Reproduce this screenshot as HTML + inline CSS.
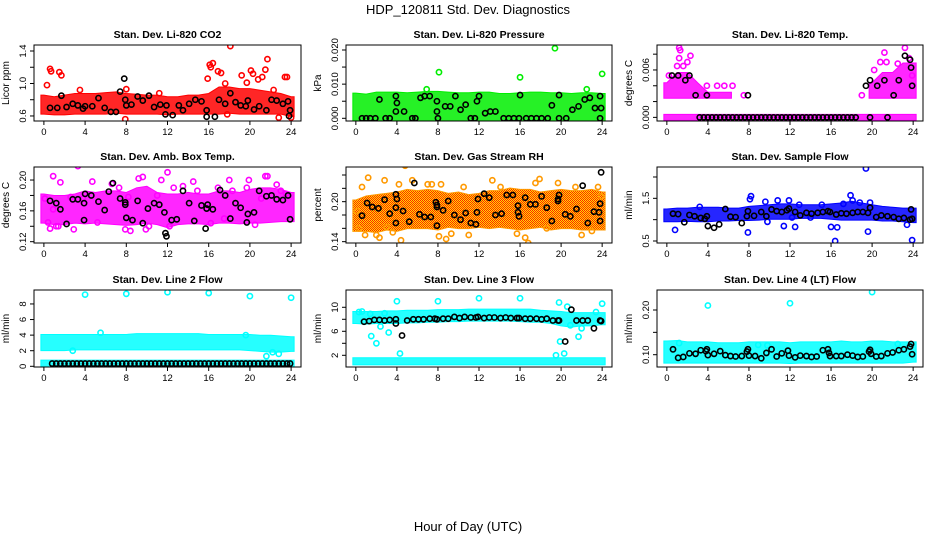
<!DOCTYPE html>
<html><head><meta charset="utf-8"><style>
body{margin:0;background:#fff;}
svg{display:block;font-family:"Liberation Sans",sans-serif;}
</style></head><body>
<svg id="chart" width="936" height="540" viewBox="0 0 936 540">
<defs>
<pattern id="rhpat" width="2" height="2" patternUnits="userSpaceOnUse"><rect width="2" height="2" fill="#ffdd00"/><rect width="1" height="1" fill="#ff2200"/><rect x="1" y="1" width="1" height="1" fill="#ff2200"/></pattern>
</defs>
<text x="468" y="14" text-anchor="middle" font-size="13">HDP_120811  Std. Dev. Diagnostics</text>
<text x="468" y="531" text-anchor="middle" font-size="13">Hour of Day (UTC)</text>
</svg>
<script>
// ---- data ----
const xTicks=[0,4,8,12,16,20,24];
const hours=[0,1,2,3,4,5,6,7,8,9,10,11,12,13,14,15,16,17,18,19,20,21,22,23,24];
// P1 CO2
const co2Lo=[0.66,0.65,0.65,0.66,0.66,0.66,0.66,0.67,0.66,0.66,0.66,0.66,0.65,0.66,0.66,0.66,0.66,0.66,0.67,0.66,0.66,0.66,0.66,0.66,0.63];
const co2Hi=[0.82,0.80,0.82,0.84,0.84,0.84,0.85,0.86,0.84,0.83,0.82,0.82,0.80,0.80,0.82,0.82,0.84,0.92,0.92,0.90,0.90,0.88,0.86,0.84,0.80];
const co2OutX=[0.3,0.6,0.7,1.5,1.7,3.5,7.9,8.0,11.2,15.9,16.1,16.4,16.2,16.9,17.2,17.6,18.1,19.2,19.7,20.1,20.3,20.8,21.2,21.5,21.7,22.3,23.4,23.6,22.8,24.0,17.8];
const co2OutY=[0.98,1.18,1.15,1.14,1.10,0.92,0.56,0.93,0.88,1.06,1.23,1.25,1.20,1.15,1.13,1.00,1.46,1.10,1.01,1.16,1.12,1.05,1.08,1.17,1.30,0.92,1.08,1.08,0.58,0.58,0.62];
const co2BlkX=[0.6,1.3,1.7,2.2,2.8,3.3,3.8,4.0,4.7,5.3,5.9,6.5,7.0,7.4,7.8,7.9,8.0,8.5,9.1,9.6,10.2,10.7,11.3,11.8,11.9,12.5,13.1,13.5,14.1,14.7,15.3,15.8,15.8,16.6,17.0,17.6,18.1,18.6,19.1,19.6,19.8,20.4,20.9,21.6,22.1,22.6,23.2,23.7,23.8,23.9];
const co2BlkY=[0.70,0.70,0.85,0.71,0.75,0.73,0.69,0.72,0.72,0.82,0.70,0.65,0.65,0.90,1.06,0.80,0.73,0.74,0.84,0.79,0.85,0.71,0.74,0.62,0.73,0.61,0.73,0.67,0.75,0.80,0.78,0.67,0.59,0.59,0.80,0.75,0.88,0.77,0.73,0.72,0.79,0.68,0.72,0.67,0.80,0.79,0.75,0.78,0.60,0.67];
// P2 pressure
const prLo=[0,0,0,0,0,0,0,0,0,0,0,0,0,0,0,0,0,0,0,0,0,0,0,0,0];
const prHi=[0.0065,0.0062,0.0068,0.0068,0.0068,0.0066,0.0068,0.0070,0.0070,0.0068,0.0066,0.0066,0.0068,0.0068,0.0064,0.0064,0.0066,0.0068,0.0068,0.0066,0.0066,0.0064,0.0066,0.0066,0.0064];
const prOutX=[8.1,16.0,19.4,24.0,6.9,22.5];
const prOutY=[0.0135,0.012,0.0205,0.013,0.0085,0.0085];
const prBlkX=[0.6,1.0,1.4,1.9,2.3,2.9,3.3,3.9,4.0,3.9,4.7,5.5,5.8,6.3,6.7,7.2,7.9,7.9,8.0,8.7,9.2,9.7,10.2,10.7,11.2,11.6,11.8,12.0,12.6,13.1,13.6,14.4,14.9,15.4,15.9,16.0,16.6,17.1,17.6,18.1,18.7,19.1,19.8,19.8,20.5,21.1,21.7,22.3,22.8,23.3,23.8,23.9,23.8];
const prBlkY=[0,0,0,0,0.0055,0,0,0.0065,0.0045,0.002,0.002,0,0,0.006,0.0065,0.0065,0.005,0.002,0,0.0035,0.0035,0.0065,0.0025,0.004,0,0,0.005,0.0065,0.0015,0.002,0.002,0,0,0,0,0.0068,0,0,0,0,0,0.0038,0.0068,0,0,0.0025,0.0035,0.0055,0.006,0.003,0.0065,0.003,0];
// P3 Li-820 temp
const tpLo=[0,0,0,0,0,0,0,0,0,0,0,0,0,0,0,0,0,0,0,0,0,0,0,0,0];
const tpHi=[0,0,0,0,0,0,0,0,0,0,0,0,0,0,0,0,0,0,0,0,0,0,0,0,0];
const tp2Lo=[0.0028,0.0028,0.0028,0.0028,0.0028,0.0028,0.0028,null,null,null,null,null,null,null,null,null,null,null,null,null,0.0028,0.0028,0.0028,0.0028,0.0028];
const tp2Hi=[0.0040,0.0053,0.0053,0.0040,0.0028,0.0028,0.0028,null,null,null,null,null,null,null,null,null,null,null,null,null,0.0040,0.0053,0.0053,0.0065,0.0065];
const tpOutX=[1.2,1.3,1.2,1.6,2.3,2.0,0.2,1.0,3.9,4.9,5.6,6.4,7.5,19.0,20.2,21.2,20.8,21.4,22.5,23.2,23.6,23.9];
const tpOutY=[0.0088,0.0085,0.0075,0.0065,0.0078,0.0070,0.0053,0.0065,0.0040,0.0040,0.0040,0.0040,0.0028,0.0028,0.0060,0.0082,0.0070,0.0070,0.0068,0.0088,0.0075,0.0053];
const tpBlkX=[0.5,1.1,1.8,2.2,2.8,3.9,7.9,19.4,19.8,20.5,21.2,22.1,22.6,23.2,23.7,23.9,23.8,3.2,3.6,4.0,4.4,4.8,5.2,5.6,6.0,6.4,6.8,7.2,7.6,8.0,8.4,8.8,9.2,9.6,10.0,10.4,10.8,11.2,11.6,12.0,12.4,12.8,13.2,13.6,14.0,14.4,14.8,15.2,15.6,16.0,16.4,16.8,17.2,17.6,18.0,18.4,19.8,21.5];
const tpBlkY=[0.0053,0.0053,0.0047,0.0053,0.0028,0.0028,0.0028,0.0040,0.0047,0.0040,0.0047,0.0028,0.0047,0.0078,0.0073,0.0040,0.0063,0,0,0,0,0,0,0,0,0,0,0,0,0,0,0,0,0,0,0,0,0,0,0,0,0,0,0,0,0,0,0,0,0,0,0,0,0,0,0,0,0];
// P4 amb box temp
const abLo=[0.148,0.146,0.146,0.148,0.147,0.148,0.147,0.146,0.145,0.146,0.148,0.146,0.142,0.146,0.147,0.147,0.146,0.148,0.148,0.147,0.148,0.148,0.149,0.150,0.150];
const abHi=[0.178,0.176,0.176,0.178,0.182,0.180,0.182,0.182,0.180,0.186,0.188,0.180,0.178,0.178,0.180,0.178,0.178,0.182,0.182,0.180,0.184,0.186,0.186,0.184,0.180];
const abOutX=[0.1,0.4,0.6,0.9,1.0,1.2,1.6,1.4,2.6,3.3,3.8,5.2,4.7,6.6,7.3,7.9,8.2,8.4,9.2,9.6,9.9,10.2,11.0,11.4,12.0,12.2,12.6,13.5,14.5,14.9,16.2,16.9,17.5,18.0,18.3,19.7,19.9,20.5,21.1,21.5,21.7,22.6,23.0,23.5,0.9,2.9];
const abOutY=[0.176,0.145,0.137,0.205,0.113,0.140,0.197,0.140,0.178,0.218,0.176,0.145,0.198,0.195,0.190,0.136,0.178,0.134,0.202,0.204,0.136,0.140,0.180,0.200,0.210,0.140,0.190,0.192,0.198,0.186,0.144,0.190,0.150,0.200,0.186,0.190,0.200,0.142,0.176,0.205,0.205,0.194,0.186,0.182,0.162,0.136];
const abBlkX=[0.6,1.2,1.6,2.2,2.8,3.3,3.9,4.0,3.9,4.6,5.3,5.9,6.3,6.7,7.4,7.9,7.9,8.0,8.6,9.1,9.6,10.1,10.7,11.2,11.7,11.8,11.9,12.4,12.9,13.5,14.1,14.6,15.3,15.8,15.7,15.9,16.4,17.1,17.6,18.1,18.6,19.1,19.7,19.8,20.4,20.9,21.6,22.1,22.6,23.2,23.7,23.9];
const abBlkY=[0.173,0.170,0.162,0.143,0.175,0.175,0.170,0.182,0.148,0.180,0.172,0.161,0.185,0.196,0.176,0.171,0.168,0.151,0.148,0.173,0.144,0.163,0.170,0.168,0.158,0.131,0.127,0.148,0.149,0.186,0.170,0.147,0.167,0.163,0.137,0.168,0.162,0.187,0.180,0.150,0.170,0.164,0.145,0.156,0.158,0.186,0.179,0.180,0.175,0.174,0.180,0.149];
// P5 gas stream RH
const rhLo=[0.160,0.160,0.158,0.162,0.160,0.164,0.164,0.164,0.162,0.166,0.164,0.164,0.166,0.164,0.166,0.164,0.162,0.164,0.166,0.162,0.164,0.164,0.162,0.162,0.162];
const rhHi=[0.198,0.204,0.206,0.208,0.210,0.214,0.212,0.214,0.212,0.208,0.210,0.206,0.208,0.212,0.212,0.216,0.214,0.214,0.210,0.212,0.214,0.212,0.212,0.214,0.210];
const rhOutX=[0.3,0.6,0.9,1.2,2.0,2.3,2.8,3.6,4.2,4.4,4.8,5.5,7.0,7.4,8.1,8.3,8.8,9.3,10.5,11.0,13.3,14.1,15.7,16.5,16.8,17.5,17.9,18.6,19.7,21.4,22.0,23.0,23.6,23.9,0.1,3.0];
const rhOutY=[0.160,0.222,0.150,0.236,0.150,0.146,0.232,0.154,0.226,0.142,0.254,0.232,0.226,0.226,0.148,0.226,0.144,0.152,0.222,0.150,0.232,0.222,0.152,0.146,0.138,0.228,0.234,0.160,0.228,0.222,0.150,0.156,0.222,0.208,0.186,0.162];
const rhBlkX=[0.6,1.1,1.6,2.2,2.8,3.3,3.9,3.9,4.0,3.9,4.6,5.2,5.7,6.2,6.7,7.3,7.8,7.9,7.9,7.9,8.5,9.0,9.6,10.2,10.7,11.2,11.7,11.8,11.9,12.5,13.0,13.6,14.2,14.7,15.3,15.8,15.8,15.9,16.5,17.0,17.5,18.1,18.6,19.1,19.7,19.8,19.7,20.4,20.9,21.5,22.1,22.6,23.2,23.7,23.8,23.9,23.8];
const rhBlkY=[0.179,0.198,0.192,0.190,0.203,0.182,0.191,0.211,0.204,0.168,0.186,0.170,0.228,0.181,0.177,0.177,0.199,0.195,0.192,0.164,0.187,0.201,0.180,0.173,0.183,0.168,0.166,0.184,0.204,0.212,0.206,0.180,0.182,0.210,0.210,0.194,0.184,0.178,0.206,0.196,0.196,0.208,0.191,0.171,0.201,0.210,0.204,0.181,0.178,0.189,0.224,0.168,0.185,0.184,0.197,0.244,0.171];
// P6 sample flow
const sfLo=[1.02,1.02,1.03,1.02,1.02,1.04,1.04,1.05,1.05,1.06,1.08,1.08,1.08,1.10,1.10,1.10,1.08,1.06,1.06,1.06,1.06,1.04,1.04,1.02,1.00];
const sfHi=[1.18,1.20,1.20,1.22,1.22,1.22,1.20,1.20,1.24,1.26,1.28,1.30,1.30,1.28,1.28,1.28,1.30,1.32,1.36,1.32,1.28,1.24,1.22,1.20,1.20];
const sfOutX=[0.8,3.2,7.9,8.1,8.2,9.6,9.8,10.8,11.4,11.9,12.2,12.5,15.1,16.0,16.4,16.6,17.2,17.9,18.1,18.8,19.4,19.6,19.8,23.4,23.9,12.9,14.0];
const sfOutY=[0.76,1.30,0.70,1.48,1.55,1.42,0.95,1.45,0.85,1.45,1.05,0.83,1.35,0.83,0.50,0.82,1.37,1.57,1.45,1.40,2.20,0.72,1.40,0.88,0.52,1.35,1.05];
const sfBlkX=[0.6,1.1,1.7,2.2,2.7,3.3,3.7,3.9,4.0,4.6,5.1,5.7,6.2,6.7,7.3,7.8,7.9,8.5,9.2,9.7,10.2,10.7,11.2,11.7,11.9,12.5,13.0,13.6,14.1,14.7,15.2,15.7,15.9,16.5,17.0,17.5,18.1,18.6,19.1,19.6,19.8,20.4,20.9,21.5,22.1,22.6,23.1,23.7,23.8,23.9];
const sfBlkY=[1.14,1.13,0.94,1.11,1.08,1.04,1.02,1.08,0.85,0.81,0.89,1.25,1.07,1.06,0.92,1.08,1.20,1.09,1.18,1.08,1.24,1.20,1.18,1.22,1.26,1.18,1.10,1.16,1.14,1.16,1.18,1.20,1.18,1.12,1.15,1.14,1.16,1.18,1.18,1.16,1.28,1.06,1.10,1.08,1.06,1.02,1.04,1.00,1.24,1.02];
// P7 line 2 flow
const l2aLo=[0.3,0.3,0.3,0.3,0.3,0.3,0.3,0.3,0.3,0.3,0.3,0.3,0.3,0.3,0.3,0.3,0.3,0.3,0.3,0.3,0.3,0.3,0.3,0.3,0.3];
const l2aHi=[0.4,0.4,0.4,0.4,0.4,0.4,0.4,0.4,0.4,0.4,0.4,0.4,0.4,0.4,0.4,0.4,0.4,0.4,0.4,0.4,0.4,0.4,0.4,0.4,0.4];
const l2bLo=[2.4,2.4,2.4,2.5,2.5,2.5,2.5,2.5,2.5,2.5,2.5,2.5,2.5,2.5,2.5,2.5,2.5,2.5,2.5,2.5,2.4,2.3,2.2,2.2,2.3];
const l2bHi=[3.7,3.7,3.7,3.7,3.7,3.7,3.7,3.7,3.7,3.8,3.8,3.8,3.8,3.8,3.8,3.8,3.7,3.7,3.7,3.7,3.7,3.6,3.6,3.5,3.4];
const l2OutX=[4.0,8.0,12.0,16.0,20.0,24.0,5.5,21.6,22.8,22.2,2.8,19.6];
const l2OutY=[9.2,9.3,9.5,9.4,9.0,8.8,4.3,1.3,1.6,1.8,2.0,4.0];
const l2BlkX=[0.8,1.2,1.6,2.0,2.4,2.8,3.2,3.6,4.0,4.4,4.8,5.2,5.6,6.0,6.4,6.8,7.2,7.6,8.0,8.4,8.8,9.2,9.6,10.0,10.4,10.8,11.2,11.6,12.0,12.4,12.8,13.2,13.6,14.0,14.4,14.8,15.2,15.6,16.0,16.4,16.8,17.2,17.6,18.0,18.4,18.8,19.2,19.6,20.0,20.4,20.8,21.2,21.6,22.0,22.4,22.8,23.2,23.6,23.9];
const l2BlkY=[0.35,0.35,0.35,0.35,0.35,0.35,0.35,0.35,0.35,0.35,0.35,0.35,0.35,0.35,0.35,0.35,0.35,0.35,0.35,0.35,0.35,0.35,0.35,0.35,0.35,0.35,0.35,0.35,0.35,0.35,0.35,0.35,0.35,0.35,0.35,0.35,0.35,0.35,0.35,0.35,0.35,0.35,0.35,0.35,0.35,0.35,0.35,0.35,0.35,0.35,0.35,0.35,0.35,0.35,0.35,0.35,0.35,0.35,0.35];
// P8 line 3 flow
const l3aLo=[0.9,0.9,0.9,0.9,0.9,0.9,0.9,0.9,0.9,0.9,0.9,0.9,0.9,0.9,0.9,0.9,0.9,0.9,0.9,0.9,0.9,0.9,0.9,0.9,0.9];
const l3aHi=[1.1,1.1,1.1,1.1,1.1,1.1,1.1,1.1,1.1,1.1,1.1,1.1,1.1,1.1,1.1,1.1,1.1,1.1,1.1,1.1,1.1,1.1,1.1,1.1,1.1];
const l3bLo=[7.8,7.7,7.8,7.8,7.8,7.9,7.9,8.0,8.0,8.1,8.1,8.2,8.2,8.2,8.2,8.2,8.1,8.0,8.0,7.8,7.4,7.2,7.4,7.4,7.6];
const l3bHi=[8.8,8.8,8.8,8.9,8.9,9.0,9.0,9.0,9.1,9.1,9.1,9.2,9.2,9.2,9.2,9.2,9.2,9.2,9.0,8.9,8.8,8.6,8.6,8.6,8.6];
const l3OutX=[0.3,0.6,1.5,2.0,2.4,3.2,4.0,4.3,8.0,12.0,16.0,19.5,19.8,19.9,20.3,20.6,21.7,22.0,24.0,23.4,20.9,1.4,2.8];
const l3OutY=[9.2,9.3,5.2,4.0,6.8,5.8,11.0,2.3,11.0,11.5,11.5,2.0,10.8,4.3,2.3,10.1,5.1,6.5,10.6,9.2,7.0,8.9,9.0];
const l3BlkX=[0.8,1.3,1.8,2.3,2.8,3.3,3.9,3.9,4.5,5.0,5.6,6.1,6.6,7.2,7.7,7.9,8.5,9.0,9.6,10.1,10.6,11.2,11.7,11.9,12.5,13.0,13.5,14.1,14.6,15.1,15.7,15.9,16.5,17.0,17.6,18.1,18.6,19.2,19.7,19.8,20.4,21.0,21.5,22.1,22.6,23.2,23.8,23.9];
const l3BlkY=[7.6,7.7,7.9,7.9,7.8,7.9,8.0,7.3,5.3,7.8,8.0,8.0,8.0,8.1,8.1,8.0,8.1,8.1,8.4,8.2,8.4,8.3,8.3,8.4,8.2,8.3,8.3,8.2,8.3,8.2,8.2,8.2,8.1,8.1,8.1,8.0,8.1,7.8,7.8,7.8,4.3,9.6,7.8,7.8,7.8,6.5,7.8,7.7];
// P9 line 4 flow
const l4Lo=[0.088,0.088,0.088,0.088,0.088,0.088,0.088,0.088,0.088,0.088,0.088,0.088,0.087,0.088,0.088,0.088,0.088,0.088,0.088,0.088,0.088,0.088,0.088,0.088,0.090];
const l4Hi=[0.124,0.125,0.122,0.122,0.122,0.120,0.120,0.120,0.122,0.122,0.122,0.122,0.120,0.122,0.122,0.122,0.122,0.124,0.122,0.122,0.124,0.124,0.122,0.122,0.122];
const l4OutX=[4.0,12.0,20.0,1.2,8.9,9.8,22.5];
const l4OutY=[0.210,0.215,0.240,0.126,0.122,0.121,0.124];
const l4BlkX=[0.6,1.1,1.6,2.2,2.8,3.3,3.8,3.9,4.0,4.6,5.2,5.7,6.2,6.7,7.3,7.8,7.9,8.0,8.6,9.2,9.7,10.2,10.7,11.2,11.8,11.9,12.5,13.0,13.6,14.1,14.6,15.2,15.7,15.9,15.8,16.5,17.0,17.6,18.1,18.6,19.1,19.7,19.8,19.9,20.4,20.9,21.5,22.0,22.6,23.1,23.7,23.8,23.9];
const l4BlkY=[0.112,0.093,0.095,0.103,0.102,0.110,0.108,0.112,0.099,0.102,0.108,0.099,0.097,0.096,0.097,0.107,0.112,0.098,0.097,0.092,0.104,0.112,0.096,0.103,0.109,0.098,0.094,0.098,0.097,0.095,0.096,0.110,0.112,0.097,0.104,0.097,0.097,0.100,0.098,0.095,0.096,0.107,0.111,0.102,0.096,0.097,0.103,0.105,0.110,0.112,0.118,0.124,0.101];

// ---- layout ----
const colX=[[34,301],[346,612],[657,923]];
const rowY=[[45,121],[167,243],[290,367]];
const NS='http://www.w3.org/2000/svg';
const svg=document.getElementById('chart');
function mk(tag,attrs,parent){const e=document.createElementNS(NS,tag);for(const k in attrs)e.setAttribute(k,attrs[k]);(parent||svg).appendChild(e);return e;}

const panels=[
 {key:'co2',title:'Stan. Dev. Li-820 CO2',ylab:'Licor ppm',c:0,r:0,ymin:0.538,ymax:1.474,ticks:[0.6,0.8,1.0,1.2,1.4],labels:['0.6',null,'1.0',null,'1.4'],color:'#ff0000',bands:[[co2Lo,co2Hi]],ox:co2OutX,oy:co2OutY,bx:co2BlkX,by:co2BlkY},
 {key:'pressure',title:'Stan. Dev. Li-820 Pressure',ylab:'kPa',c:1,r:0,ymin:-0.00079,ymax:0.02146,ticks:[0,0.005,0.01,0.015,0.02],labels:['0.000',null,'0.010',null,'0.020'],color:'#00ee00',bands:[[prLo,prHi]],ox:prOutX,oy:prOutY,bx:prBlkX,by:prBlkY},
 {key:'li820-temp',title:'Stan. Dev. Li-820 Temp.',ylab:'degrees C',c:2,r:0,ymin:-0.00046,ymax:0.00916,ticks:[0,0.002,0.004,0.006,0.008],labels:['0.000',null,null,'0.006',null],color:'#ff00ff',bands:[[tpLo,tpHi],[tp2Lo,tp2Hi]],ox:tpOutX,oy:tpOutY,bx:tpBlkX,by:tpBlkY},
 {key:'amb-box-temp',title:'Stan. Dev. Amb. Box Temp.',ylab:'degrees C',c:0,r:1,ymin:0.1183,ymax:0.2169,ticks:[0.12,0.14,0.16,0.18,0.20],labels:['0.12',null,'0.16',null,'0.20'],color:'#ff00ff',bands:[[abLo,abHi]],ox:abOutX,oy:abOutY,bx:abBlkX,by:abBlkY},
 {key:'gas-stream-rh',title:'Stan. Dev. Gas Stream RH',ylab:'percent',c:1,r:1,ymin:0.138,ymax:0.252,ticks:[0.14,0.16,0.18,0.20,0.22,0.24],labels:['0.14',null,null,'0.20',null,null],color:'#ff9900',fill:'url(#rhpat)',bands:[[rhLo,rhHi]],ox:rhOutX,oy:rhOutY,bx:rhBlkX,by:rhBlkY},
 {key:'sample-flow',title:'Stan. Dev. Sample Flow',ylab:'ml/min',c:2,r:1,ymin:0.453,ymax:2.234,ticks:[0.5,1.0,1.5,2.0],labels:['0.5',null,'1.5',null],color:'#0000ff',bands:[[sfLo,sfHi]],ox:sfOutX,oy:sfOutY,bx:sfBlkX,by:sfBlkY},
 {key:'line2-flow',title:'Stan. Dev. Line 2 Flow',ylab:'ml/min',c:0,r:2,ymin:-0.09,ymax:9.79,ticks:[0,2,4,6,8],labels:['0','2','4','6','8'],color:'#00ffff',bands:[[l2aLo,l2aHi],[l2bLo,l2bHi]],ox:l2OutX,oy:l2OutY,bx:l2BlkX,by:l2BlkY},
 {key:'line3-flow',title:'Stan. Dev. Line 3 Flow',ylab:'ml/min',c:1,r:2,ymin:0.05,ymax:12.88,ticks:[2,4,6,8,10],labels:['2',null,'6',null,'10'],color:'#00ffff',bands:[[l3aLo,l3aHi],[l3bLo,l3bHi]],ox:l3OutX,oy:l3OutY,bx:l3BlkX,by:l3BlkY},
 {key:'line4-flow',title:'Stan. Dev. Line 4 (LT) Flow',ylab:'ml/min',c:2,r:2,ymin:0.0725,ymax:0.2447,ticks:[0.10,0.15,0.20],labels:['0.10',null,'0.20'],color:'#00ffff',bands:[[l4Lo,l4Hi]],ox:l4OutX,oy:l4OutY,bx:l4BlkX,by:l4BlkY}
];

panels.forEach(p=>{
 const [x0,x1]=colX[p.c],[y0,y1]=rowY[p.r];
 const xs=v=>x0+(v+0.96)/25.92*(x1-x0);
 const ys=v=>y1-(v-p.ymin)/(p.ymax-p.ymin)*(y1-y0);
 const g=mk('g',{});
 
 
 const t=mk('text',{x:(x0+x1)/2,y:y0-7,'text-anchor':'middle','font-size':'10.5','font-weight':'bold'},g);
 t.textContent=p.title;
 
 
 const yl=mk('text',{x:0,y:0,'text-anchor':'middle','font-size':'10',transform:`translate(${x0-25},${(y0+y1)/2}) rotate(-90)`},g);
 yl.textContent=p.ylab;
 
 
 const clip='clip-'+p.key;
 const cp=mk('clipPath',{id:clip},g);mk('rect',{x:x0,y:y0,width:x1-x0,height:y1-y0},cp);
 const pg=mk('g',{'clip-path':`url(#${clip})`},g);
 p.bands.forEach(([lo,hi])=>{
  let seg=[];
  const flush=()=>{ if(seg.length){
    const top=seg.map(i=>`${xs(hours[i])},${ys(hi[i])-3}`);
    const bot=seg.slice().reverse().map(i=>`${xs(hours[i])},${ys(lo[i])+3}`);
    const L=seg[0],R=seg[seg.length-1];
    const pts=[`${xs(hours[L])-3},${ys(lo[L])+3}`,`${xs(hours[L])-3},${ys(hi[L])-3}`].concat(top,[`${xs(hours[R])+3},${ys(hi[R])-3}`,`${xs(hours[R])+3},${ys(lo[R])+3}`],bot);
    const b=mk('polygon',{points:pts.join(' '),fill:p.fill||p.color,'fill-opacity':p.fill?1:0.85,stroke:p.color,'stroke-width':1},pg);
    
    
  } seg=[]; };
  hours.forEach((h,i)=>{ if(lo[i]==null) flush(); else seg.push(i); });
  flush();
 });
 p.ox.forEach((v,i)=>{
  const c=mk('circle',{cx:xs(v),cy:ys(p.oy[i]),r:2.6,fill:'none',stroke:p.color,'stroke-width':1.6},pg);
  
  
 });
 p.bx.forEach((v,i)=>{
  const c=mk('circle',{cx:xs(v),cy:ys(p.by[i]),r:2.6,fill:'none',stroke:'#000','stroke-width':1.6},pg);
  
  
 });
 const box=mk('rect',{x:x0,y:y0,width:x1-x0,height:y1-y0,fill:'none',stroke:'#000','stroke-width':1},g);
 
 
 xTicks.forEach(v=>{
  mk('line',{x1:xs(v),x2:xs(v),y1:y1,y2:y1+4,stroke:'#000'},g);
  const tl=mk('text',{x:xs(v),y:y1+14,'text-anchor':'middle','font-size':'9.5'},g);
  tl.textContent=v;
  
  
 });
 p.ticks.forEach((v,i)=>{
  mk('line',{x1:x0-4,x2:x0,y1:ys(v),y2:ys(v),stroke:'#000'},g);
  if(p.labels[i]){
   const tl=mk('text',{x:0,y:0,'text-anchor':'middle','font-size':'9.5',transform:`translate(${x0-8},${ys(v)}) rotate(-90)`},g);
   tl.textContent=p.labels[i];
   
   
  }
 });
});
</script>
</body></html>
